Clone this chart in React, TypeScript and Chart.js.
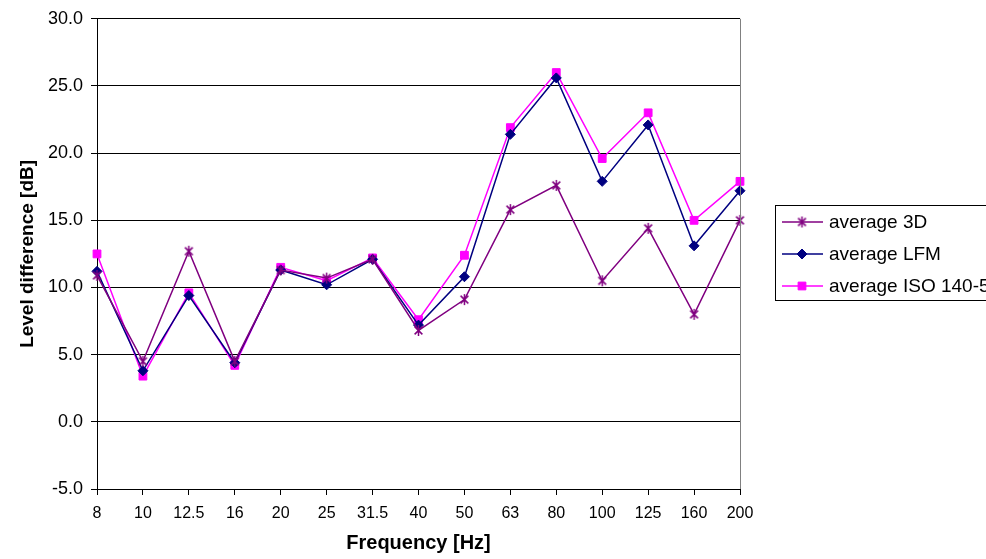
import React, { useEffect, useRef } from "react";
import { Chart, registerables } from "chart.js";

Chart.register(...registerables);

const frequencies = ["8", "10", "12.5", "16", "20", "25", "31.5", "40", "50", "63", "80", "100", "125", "160", "200"];
const average3D = [10.9, 4.5, 12.7, 4.5, 11.3, 10.7, 12.1, 6.8, 9.1, 15.8, 17.6, 10.5, 14.4, 8.0, 15.0];
const averageLFM = [11.2, 3.8, 9.4, 4.4, 11.3, 10.2, 12.1, 7.2, 10.8, 21.4, 25.6, 17.9, 22.1, 13.1, 17.2];
const averageISO = [12.5, 3.4, 9.6, 4.2, 11.5, 10.5, 12.2, 7.6, 12.4, 21.9, 26.0, 19.6, 23.0, 15.0, 17.9];
const seriesLabels = ["average 3D", "average LFM", "average ISO 140-5"];
const yMin = -5;
const yMax = 30;
const yStep = 5;

const FONT = "Arial, 'Liberation Sans', sans-serif";

function makeAsterisk(color: string, r: number, lw: number): HTMLCanvasElement {
  const size = Math.ceil(2 * r + 4);
  const c = document.createElement("canvas");
  c.width = size;
  c.height = size;
  const ctx = c.getContext("2d")!;
  const x = size / 2, y = size / 2;
  const d = Math.SQRT1_2 * r;
  ctx.strokeStyle = color;
  ctx.lineWidth = lw;
  ctx.beginPath();
  ctx.moveTo(x, y - r);
  ctx.lineTo(x, y + r);
  ctx.moveTo(x - d, y - d);
  ctx.lineTo(x + d, y + d);
  ctx.moveTo(x - d, y + d);
  ctx.lineTo(x + d, y - d);
  ctx.stroke();
  return c;
}

function drawMarker(ctx: CanvasRenderingContext2D, style: any, x: number, y: number, r: number) {
  ctx.beginPath();
  if (style === "rect") {
    const s = Math.SQRT1_2 * r;
    ctx.rect(x - s, y - s, 2 * s, 2 * s);
    ctx.fill();
    ctx.stroke();
  } else if (style === "rectRot") {
    ctx.moveTo(x, y - r);
    ctx.lineTo(x + r, y);
    ctx.lineTo(x, y + r);
    ctx.lineTo(x - r, y);
    ctx.closePath();
    ctx.fill();
    ctx.stroke();
  } else if (style && style.width) {
    ctx.drawImage(style, x - style.width / 2, y - style.height / 2);
  }
}

const frameAndLegend = {
  id: "frameAndLegend",
  beforeDraw(chart: any) {
    const ctx = chart.ctx;
    ctx.save();
    ctx.fillStyle = "#ffffff";
    ctx.fillRect(0, 0, chart.width, chart.height);
    ctx.restore();
  },
  afterDraw(chart: any) {
    const ctx = chart.ctx;
    const a = chart.chartArea;
    ctx.save();
    ctx.strokeStyle = "#808080";
    ctx.lineWidth = 1;
    ctx.beginPath();
    ctx.moveTo(Math.round(a.right) + 0.5, a.top);
    ctx.lineTo(Math.round(a.right) + 0.5, a.bottom);
    ctx.stroke();

    const bx = 775.5, by = 205.5, bw = 260, bh = 95;
    ctx.strokeStyle = "#000000";
    ctx.lineWidth = 1;
    ctx.strokeRect(bx, by, bw, bh);
    const rows = [222, 254, 286];
    chart.data.datasets.forEach((ds: any, i: number) => {
      const y = rows[i];
      ctx.strokeStyle = ds.borderColor;
      ctx.lineWidth = 1.5;
      ctx.beginPath();
      ctx.moveTo(782, y);
      ctx.lineTo(823, y);
      ctx.stroke();
      ctx.fillStyle = ds.pointBackgroundColor;
      ctx.strokeStyle = ds.pointBorderColor;
      ctx.lineWidth = ds.pointBorderWidth;
      drawMarker(ctx, ds.pointStyle, 802, y, ds.pointRadius);
      ctx.fillStyle = "#000000";
      ctx.font = `19px ${FONT}`;
      ctx.textBaseline = "middle";
      ctx.textAlign = "left";
      ctx.fillText(ds.label, 829, y + 1);
    });
    ctx.restore();
  },
};

export default function App() {
  const ref = useRef<HTMLCanvasElement>(null);

  useEffect(() => {
    if (!ref.current) return;
    const asterisk = makeAsterisk("#800080", 5.5, 1.5);
    const chart = new Chart(ref.current, {
      type: "line",
      data: {
        labels: frequencies,
        datasets: [
          {
            label: seriesLabels[0],
            data: average3D,
            borderColor: "#800080",
            backgroundColor: "#800080",
            pointBackgroundColor: "#800080",
            pointBorderColor: "#800080",
            pointBorderWidth: 1.5,
            pointStyle: asterisk,
            pointRadius: 6,
            borderWidth: 1.5,
            tension: 0,
          },
          {
            label: seriesLabels[1],
            data: averageLFM,
            borderColor: "#000080",
            backgroundColor: "#000080",
            pointBackgroundColor: "#000080",
            pointBorderColor: "#000080",
            pointBorderWidth: 1,
            pointStyle: "rectRot",
            pointRadius: 5,
            borderWidth: 1.5,
            tension: 0,
          },
          {
            label: seriesLabels[2],
            data: averageISO,
            borderColor: "#FF00FF",
            backgroundColor: "#FF00FF",
            pointBackgroundColor: "#FF00FF",
            pointBorderColor: "#FF00FF",
            pointBorderWidth: 1,
            pointStyle: "rect",
            pointRadius: 5.5,
            borderWidth: 1.5,
            tension: 0,
          },
        ],
      },
      options: {
        animation: false,
        responsive: false,
        devicePixelRatio: 1,
        layout: { padding: { left: 0, right: 246, top: 18, bottom: 0 } },
        plugins: {
          legend: { display: false },
          tooltip: { enabled: false },
        },
        scales: {
          x: {
            type: "category",
            offset: false,
            afterFit: (s: any) => {
              s.height = 70;
            },
            grid: {
              display: true,
              drawOnChartArea: false,
              drawTicks: true,
              tickLength: 6,
              color: "#000000",
            },
            border: { display: true, color: "#000000", width: 1 },
            ticks: {
              color: "#000000",
              font: { family: FONT, size: 16 },
              padding: 9,
              maxRotation: 0,
              autoSkip: false,
            },
            title: {
              display: true,
              text: "Frequency [Hz]",
              color: "#000000",
              font: { family: FONT, size: 20, weight: "bold" },
              padding: { top: 0, bottom: 4 },
            },
          },
          y: {
            min: yMin,
            max: yMax,
            afterFit: (s: any) => {
              s.width = 97;
            },
            grid: {
              color: "#000000",
              tickLength: 6,
              drawTicks: true,
            },
            border: { display: true, color: "#000000", width: 1 },
            ticks: {
              stepSize: yStep,
              color: "#000000",
              font: { family: FONT, size: 18 },
              padding: 8,
              callback: (v: any) => Number(v).toFixed(1),
            },
            title: {
              display: true,
              text: "Level difference [dB]",
              color: "#000000",
              font: { family: FONT, size: 19, weight: "bold" },
              padding: { top: 16, bottom: 0 },
            },
          },
        },
      },
      plugins: [frameAndLegend],
    } as any);
    return () => chart.destroy();
  }, []);

  return (
    <div style={{ position: "absolute", left: 0, top: 0, width: 986, height: 559 }}>
      <canvas ref={ref} width={986} height={559} style={{ display: "block", width: 986, height: 559 }} />
    </div>
  );
}
